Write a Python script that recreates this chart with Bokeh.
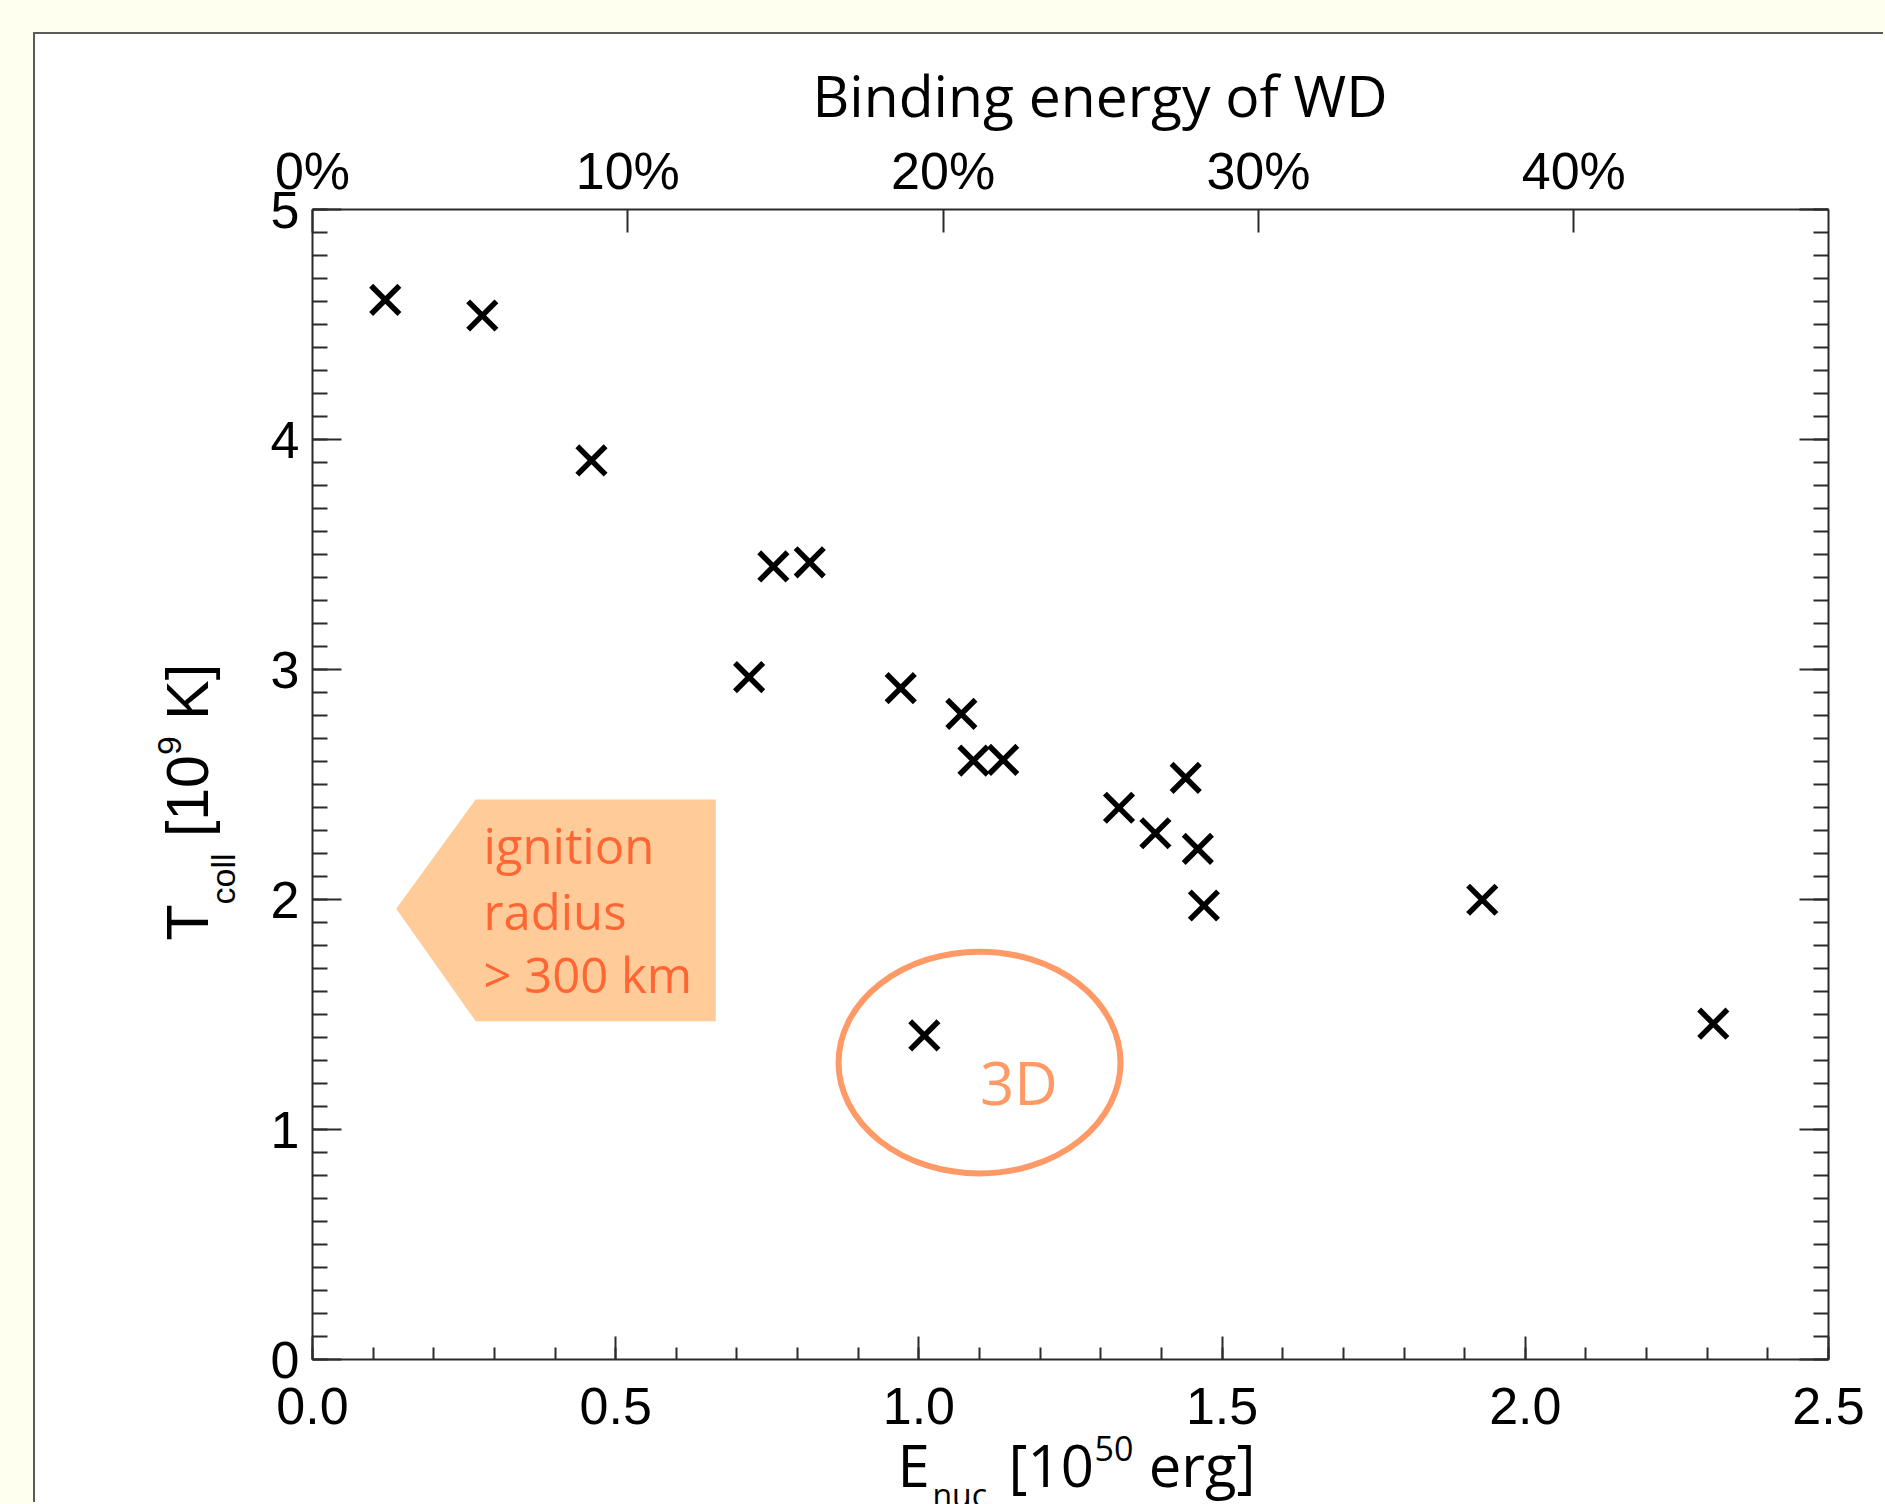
import math
from bokeh.plotting import figure
from bokeh.models import (LinearAxis, Range1d, SingleIntervalTicker, FixedTicker,
                          PrintfTickFormatter, CustomJSTickFormatter,
                          ColumnDataSource, Column)
from bokeh.core.properties import value
from bokeh.embed import file_html
from bokeh.resources import INLINE

# ---------------- data ----------------
e_nuc_2d = [0.120, 0.280, 0.460, 0.760, 0.820, 0.720, 0.970, 1.070, 1.090,
            1.139, 1.440, 1.330, 1.390, 1.460, 1.470, 1.929, 2.310]
t_coll_2d = [4.607, 4.539, 3.909, 3.448, 3.466, 2.967, 2.919, 2.807, 2.604,
             2.607, 2.529, 2.399, 2.288, 2.220, 1.974, 1.999, 1.460]
e_nuc_3d = [1.009]
t_coll_3d = [1.409]

x_range = (0.0, 2.5)
y_range = (0.0, 5.0)
pct_ticks = [0, 10, 20, 30, 40]
erg_per_percent = 0.052          # 1 % of WD binding energy in 1e50 erg

# annotation shapes (data coordinates)
arrow_x = [0.138, 0.269, 0.665, 0.665, 0.269]
arrow_y = [1.960, 2.435, 2.435, 1.471, 1.471]
ign_lines = ["ignition", "radius", "> 300 km"]
ign_x = [0.282, 0.282, 0.282]
ign_y = [2.239, 1.952, 1.678]
ell_x, ell_y, ell_w, ell_h = [1.100], [1.291], [0.465], [0.965]

TICK_FONT = "Liberation Sans"
HUM_FONT = "Open Sans"
AX_COL = "#2b2b2b"

p = figure(width=1850, height=1470, x_range=x_range, y_range=y_range,
           output_backend="svg", toolbar_location=None,
           x_axis_location=None, y_axis_location=None,
           min_border_left=277, min_border_right=57,
           min_border_top=175, min_border_bottom=145,
           border_fill_color="white", background_fill_color="white",
           outline_line_color=None,
           styles={"box-shadow": "-2px -2px 0 0 #5a5a5a"})
p.grid.visible = False
p.extra_x_ranges = {"pct": Range1d(0, x_range[1] / erg_per_percent)}


def style_axis(ax, maj_in, min_in, standoff):
    ax.axis_line_color = AX_COL
    ax.axis_line_width = 2
    ax.major_tick_line_color = AX_COL
    ax.major_tick_line_width = 2
    ax.minor_tick_line_color = AX_COL
    ax.minor_tick_line_width = 2
    ax.major_tick_in = maj_in
    ax.major_tick_out = 0
    ax.minor_tick_in = min_in
    ax.minor_tick_out = 0
    ax.major_label_text_font = TICK_FONT
    ax.major_label_text_font_size = "52px"
    ax.major_label_text_color = "black"
    ax.major_label_standoff = standoff


xb = LinearAxis(ticker=SingleIntervalTicker(interval=0.5, num_minor_ticks=5),
                formatter=PrintfTickFormatter(format="%.1f"))
style_axis(xb, 23, 12, 28)
p.add_layout(xb, "below")

xt = LinearAxis(x_range_name="pct",
                ticker=FixedTicker(ticks=pct_ticks, minor_ticks=[]),
                formatter=CustomJSTickFormatter(code="return Math.round(tick) + '%'"))
style_axis(xt, 23, 0, 10)
p.add_layout(xt, "above")

yl = LinearAxis(ticker=SingleIntervalTicker(interval=1, num_minor_ticks=10))
style_axis(yl, 29, 15, 13)
p.add_layout(yl, "left")

yr = LinearAxis(ticker=SingleIntervalTicker(interval=1, num_minor_ticks=10),
                formatter=CustomJSTickFormatter(code="return ''"))
style_axis(yr, 29, 15, 0)
p.add_layout(yr, "right")

# annotations inside the frame
p.patch(arrow_x, arrow_y, fill_color="#FFCC99", line_color=None)
p.text(x=ign_x, y=ign_y, text=ign_lines, text_font=value(HUM_FONT),
       text_font_size="49px", text_color="#FF6633", text_align="left",
       text_baseline="alphabetic")
p.ellipse(x=ell_x, y=ell_y, width=ell_w, height=ell_h, fill_color=None,
          line_color="#FF9966", line_width=6)
p.text(x=[1.165], y=[1.208], text=["3D"], text_font=value(HUM_FONT),
       text_font_size="60px", text_color="#FF9966", text_align="center",
       text_baseline="alphabetic")

# data
p.scatter(e_nuc_2d, t_coll_2d, marker="x", size=40, line_width=5.5,
          line_color="black")
p.scatter(e_nuc_3d, t_coll_3d, marker="x", size=40, line_width=5.5,
          line_color="black")

# top title and x title: text drawn on the overlay level (outside the frame)
title_src = ColumnDataSource(dict(
    x=[1.2987, 0.9647, 1.0224, 1.1478, 1.2896, 1.3790],
    y=[5.50, -0.456, -0.587, -0.456, -0.389, -0.456],
    text=["Binding energy of WD", "E", "nuc", "[10", "50", "erg]"],
    size=["57px", "58px", "32px", "58px", "34px", "58px"],
    align=["center", "left", "left", "left", "left", "left"],
))
p.text(x="x", y="y", text="text", source=title_src, text_font=value(HUM_FONT),
       text_font_size="size", text_align="align", text_baseline="alphabetic",
       text_color="black", level="overlay")

# y title: T_coll [10^9 K], rotated
ytitle_src = ColumnDataSource(dict(
    x=[-0.2056, -0.1477, -0.2056, -0.2351, -0.2056],
    y=[1.8217, 1.9785, 2.2713, 2.6283, 2.7817],
    text=["T", "coll", "[10", "9", "K]"],
    size=["59px", "34px", "59px", "34px", "59px"],
))
p.text(x="x", y="y", text="text", source=ytitle_src, text_font=value(TICK_FONT),
       text_font_size="size", text_align="left", text_baseline="alphabetic",
       angle=math.pi / 2, text_color="black", level="overlay")

root = Column(children=[p],
              styles={"background-color": "#FFFFF0", "margin": "-8px",
                      "padding": "42px 0 0 43px"})

open("out.html", "w").write(file_html(root, INLINE))
